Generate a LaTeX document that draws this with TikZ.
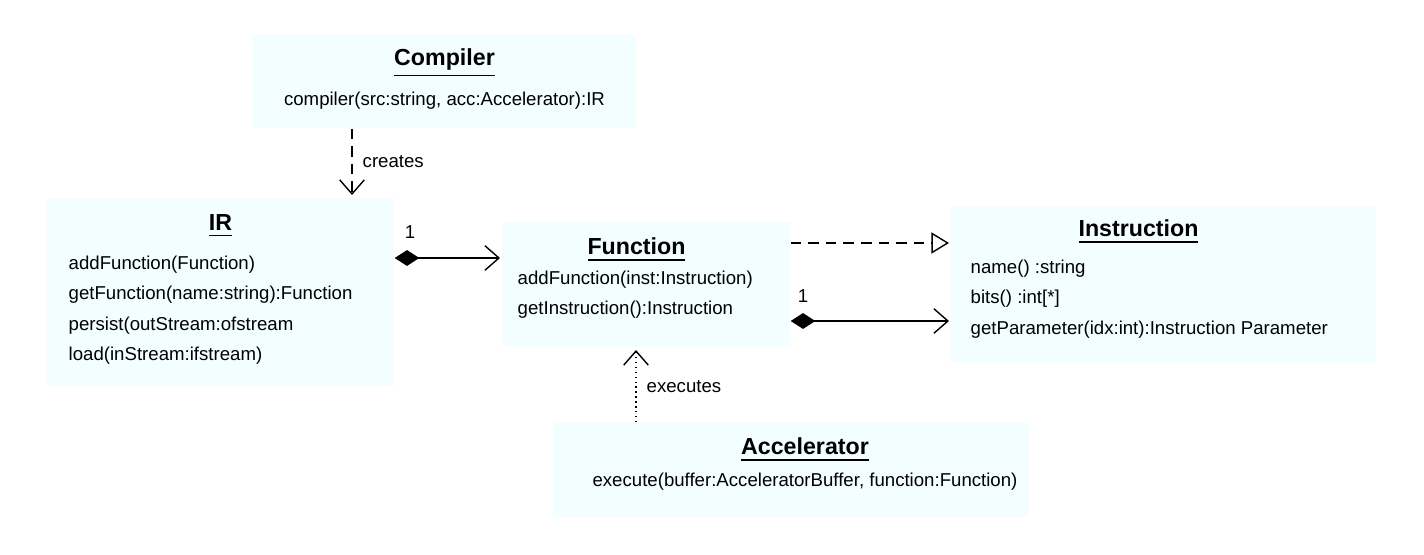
\documentclass[tikz,border=0pt]{standalone}
\usepackage{fontspec}
\setmainfont{Liberation Sans}
\usetikzlibrary{calc}
\usetikzlibrary{positioning}
\usetikzlibrary{arrows.meta}

\tikzset{
	cls/.style={fill=blue!8!cyan!5!white,draw=none,inner sep=0pt},
	ttl/.style={font=\fontsize{6.6pt}{7pt}\selectfont\bfseries,inner sep=0pt},
	mth/.style={font=\fontsize{5.3pt}{8.7pt}\selectfont,align=left,inner sep=0pt},
	lbl/.style={font=\fontsize{5.3pt}{6pt}\selectfont,inner sep=0pt},
	comp/.style={thin,{Diamond[length=7pt,width=4.5pt]}-{Straight Barb[length=4pt,width=7pt]}},
	dep/.style={thin,densely dashed,-{Straight Barb[length=4pt,width=7pt]}},
	real/.style={thin,densely dashed,-{Triangle[open,length=5pt,width=6pt]}}
}

\begin{document}
\begin{tikzpicture}
		\useasboundingbox (0,0) rectangle (14.24,5.54);
		%class boxes
		\node[cls,minimum width=3.83cm,minimum height=0.93cm] (Compiler) at (4.445,4.725) {};
		\node[cls,minimum width=3.47cm,minimum height=1.88cm] (IR) at (2.205,2.62) {};
		\node[cls,minimum width=2.87cm,minimum height=1.25cm] (Function) at (6.465,2.695) {};
		\node[cls,minimum width=4.25cm,minimum height=1.56cm] (Instruction) at (11.635,2.69) {};
		\node[cls,minimum width=4.76cm,minimum height=0.94cm] (Accelerator) at (7.91,0.84) {};
		%class names
		\node[ttl] (CompilerT) at (4.445,4.91) {\underline{Compiler}};
		\node[ttl] (IRT) at (2.205,3.28) {\underline{IR}};
		\node[ttl] (FunctionT) at (6.365,3.04) {\underline{Function}};
		\node[ttl] (InstructionT) at (11.385,3.22) {\underline{Instruction}};
		\node[ttl] (AcceleratorT) at (8.05,1.04) {\underline{Accelerator}};
		%methods
		\node[mth] (CompilerM) at (4.445,4.53) {compiler(src:string, acc:Accelerator):IR};
		\node[mth,anchor=north west] (IRM) at (0.68,2.99) {addFunction(Function)\\getFunction(name:string):Function\\persist(outStream:ofstream\\load(inStream:ifstream)};
		\node[mth,anchor=north west] (FunctionM) at (5.17,2.84) {addFunction(inst:Instruction)\\getInstruction():Instruction};
		\node[mth,anchor=north west] (InstructionM) at (9.70,2.95) {name() :string\\bits() :int[*]\\getParameter(idx:int):Instruction Parameter};
		\node[mth] (AcceleratorM) at (8.05,0.72) {execute(buffer:AcceleratorBuffer, function:Function)};
		%relations
		\coordinate (c1) at (3.52,0|-Compiler.south);
		\coordinate (c2) at (3.52,3.59);
		\draw[dep] (c1)--(c2) node[lbl,midway,right=0.1cm] {creates};
		\coordinate (i1) at (IR.east|-0,2.96);
		\coordinate (f1) at (5.00,2.96);
		\draw[comp] (i1)--(f1);
		\node[lbl] (one1) at (4.10,3.22) {1};
		\coordinate (f2) at (Function.east|-0,3.11);
		\coordinate (n2) at (9.49,3.11);
		\draw[real] (f2)--(n2);
		\coordinate (f3) at (Function.east|-0,2.33);
		\coordinate (n3) at (9.49,2.33);
		\draw[comp] (f3)--(n3);
		\node[lbl] (one2) at (8.03,2.58) {1};
		\coordinate (a1) at (6.36,0|-Accelerator.north);
		\coordinate (a2) at (6.36,2.04);
		\draw[dep,densely dotted] (a1)--(a2) node[lbl,midway,right=0.1cm] {executes};
	\end{tikzpicture}
\end{document}
